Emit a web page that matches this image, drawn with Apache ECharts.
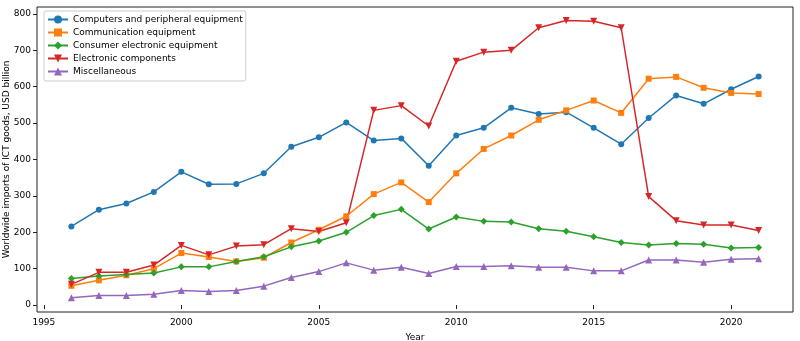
<!DOCTYPE html>
<html><head><meta charset="utf-8">
<script src="https://cdn.jsdelivr.net/npm/echarts@6/dist/echarts.min.js"></script>
<style>html,body{margin:0;padding:0;background:#fff}#c{width:800px;height:341px}</style>
</head><body><div id="c"></div>
<script>
const years = [1996,1997,1998,1999,2000,2001,2002,2003,2004,2005,2006,2007,2008,2009,2010,2011,2012,2013,2014,2015,2016,2017,2018,2019,2020,2021];
const computers = [216,262,279,311,366,332,333,362,435,461,502,452,458,383,466,487,542,525,530,487,442,514,576,553,593,628];
const communication = [53,68,82,100,143,132,120,130,172,207,244,305,337,283,362,429,466,509,535,562,528,622,627,597,583,580];
const consumer = [73,80,84,88,105,105,120,133,160,176,200,246,263,209,242,230,228,210,203,188,172,165,169,167,157,158];
const components = [57,90,90,110,164,138,162,166,210,202,226,535,548,492,670,695,700,762,782,780,762,298,232,220,220,205];
const misc = [20,26,26,30,40,37,40,52,76,92,116,96,104,87,106,106,108,104,104,94,94,124,124,118,126,127];
const xTicks = [1995,2000,2005,2010,2015,2020];
const yTicks = [0,100,200,300,400,500,600,700,800];
const names = ['Computers and peripheral equipment','Communication equipment','Consumer electronic equipment','Electronic components','Miscellaneous'];
const colors = ['#1f77b4','#ff7f0e','#2ca02c','#d62728','#9467bd'];
const symbols = ['circle','rect','diamond','triangle','triangle'];
const rotates = [0,0,0,180,0];
const sizes = [6,6,7,7,7];
const allData = [computers,communication,consumer,components,misc];

const font = 'DejaVu Sans';
const fs = 9;
const chart = echarts.init(document.getElementById('c'));
chart.setOption({
  animation:false,
  textStyle:{fontFamily:font},
  grid:{left:37,right:7,top:7,bottom:29,outerBoundsMode:'none',containLabel:false,show:true,borderColor:'#222',borderWidth:1,backgroundColor:'transparent'},
  legend:{
    orient:'vertical',left:44,top:11,
    backgroundColor:'#fff',borderColor:'#ccc',borderWidth:1,borderRadius:2,
    padding:[4,3,5,3],itemGap:4,itemWidth:20,itemHeight:10,
    textStyle:{fontFamily:font,fontSize:fs,color:'#000'},
    data:names
  },
  xAxis:{
    type:'value',min:1994.75,max:2022.25,
    name:'Year',nameLocation:'middle',nameGap:21,nameMoveOverlap:false,
    nameTextStyle:{fontFamily:font,fontSize:fs,color:'#000'},
    axisLine:{show:false},splitLine:{show:false},
    axisTick:{show:true,length:4,customValues:xTicks,lineStyle:{color:'#222'}},
    axisLabel:{customValues:xTicks,formatter:v=>String(Math.round(v)),fontFamily:font,fontSize:fs,color:'#000',margin:6}
  },
  yAxis:{
    type:'value',min:-19,max:819,
    name:'Worldwide imports of ICT goods, USD billion',nameLocation:'middle',nameGap:26,nameMoveOverlap:false,
    nameTextStyle:{fontFamily:font,fontSize:fs,color:'#000'},
    axisLine:{show:false},splitLine:{show:false},
    axisTick:{show:true,length:4,customValues:yTicks,lineStyle:{color:'#222'}},
    axisLabel:{customValues:yTicks,formatter:v=>String(Math.round(v)),fontFamily:font,fontSize:fs,color:'#000',margin:6}
  },
  series: names.map((n,i)=>({
    name:n,type:'line',
    data: years.map((y,j)=>[y,allData[i][j]]),
    symbol:symbols[i],symbolSize:sizes[i],symbolRotate:rotates[i],
    showAllSymbol:true,
    lineStyle:{color:colors[i],width:1.5},
    itemStyle:{color:colors[i]},
    emphasis:{disabled:true}
  }))
});
</script></body></html>
